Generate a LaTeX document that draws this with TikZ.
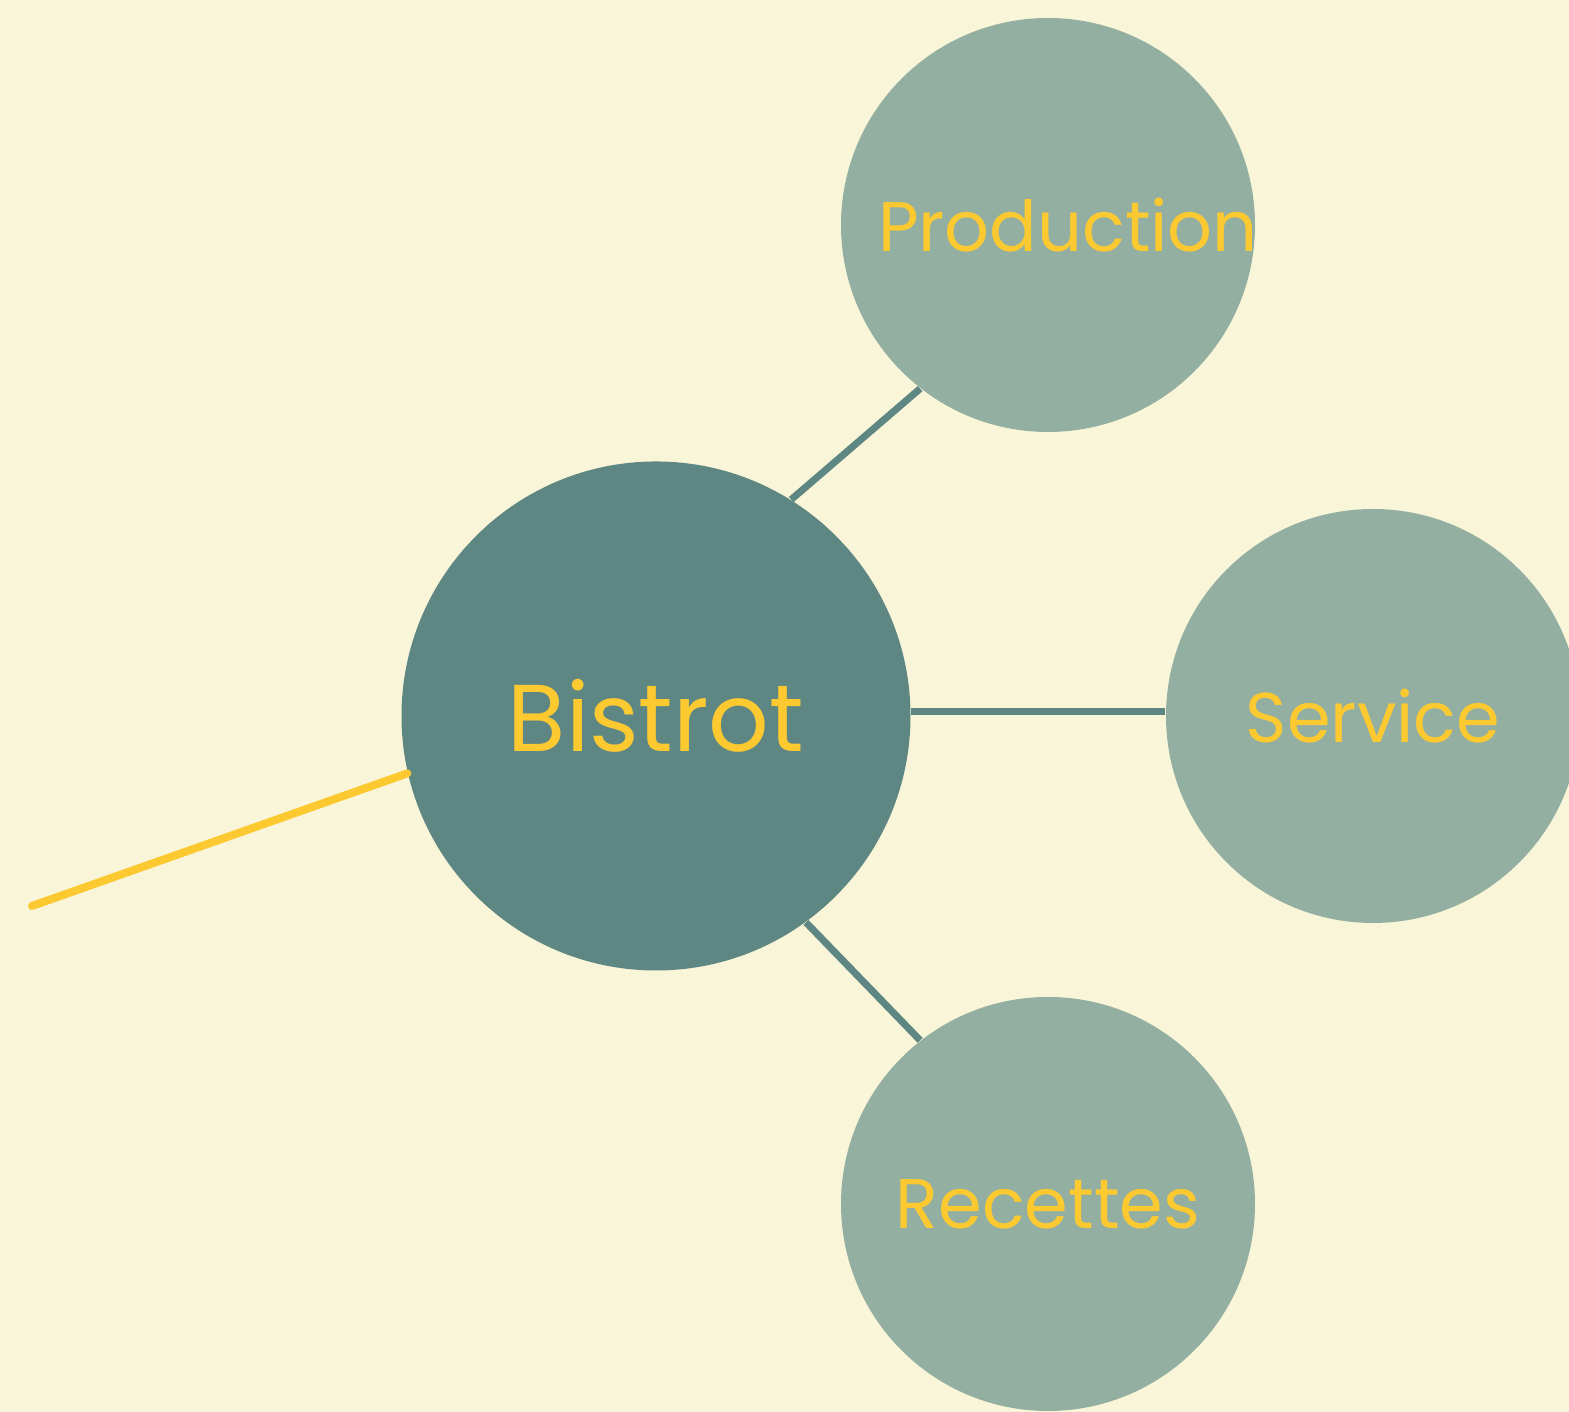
\documentclass[tikz,border=0pt]{standalone}
\usepackage{fontspec}
\setmainfont{Poppins}
\definecolor{bgcream}{HTML}{F9F5D8}
\definecolor{hubteal}{HTML}{5E8784}
\definecolor{leafsage}{HTML}{92AFA1}
\definecolor{inkyellow}{HTML}{FCC930}
\tikzset{
  hub/.style={circle, fill=hubteal, minimum size=5.09cm, inner sep=0pt,
    text=inkyellow, font=\fontsize{27}{32}\selectfont},
  leaf/.style={circle, fill=leafsage, minimum size=4.14cm, inner sep=0pt,
    text=inkyellow, font=\fontsize{20}{24}\selectfont},
  link/.style={line width=0.07cm, draw=hubteal},
  tail/.style={line width=0.08cm, draw=inkyellow, line cap=round}
}
\begin{document}
\begin{tikzpicture}
            % page and background
            \useasboundingbox (0,0) rectangle (15.69,14.12);
            \fill [bgcream] (0,0) rectangle (15.69,14.12);%

            % Marking node bistrot
            \node [hub] (bistrot) at (6.56,6.96) {Bistrot};%

            % Marking node production
            \node [leaf] (production) at (10.48,11.87) {\makebox[0pt]{\hspace*{0.4cm}Production}};%

            % Marking node service
            \node [leaf] (service) at (13.73,6.96) {Service};%

            % Marking node recettes
            \node [leaf] (recettes) at (10.48,2.08) {Recettes};%

            % Drawing segment bistrot production
            \draw [link] (bistrot.58) -- (production.232);%

            % Drawing segment bistrot service
            \draw [link] (bistrot.1.24) -- (bistrot.1.24 -| service.west);%

            % Drawing segment bistrot recettes
            \draw [link] (bistrot.-54.6) -- (recettes.128.1);%

            % Drawing segment tail bistrot
            \coordinate (tailend) at (0.32,5.06);
            \draw [tail] (tailend) -- (bistrot.193.2);%
\end{tikzpicture}
\end{document}
